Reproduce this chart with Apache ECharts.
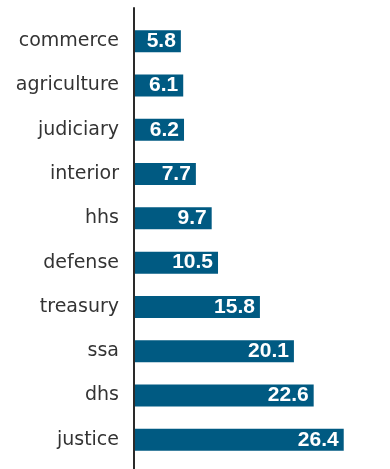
<!DOCTYPE html>
<html><head><meta charset="utf-8">
<script src="https://cdn.jsdelivr.net/npm/echarts@6/dist/echarts.min.js"></script>
<style>html,body{margin:0;padding:0;background:#fff}#c{width:390px;height:469px}</style>
</head><body><div id="c"></div>
<script>
const categories = ["commerce","agriculture","judiciary","interior","hhs","defense","treasury","ssa","dhs","justice"];
const values = [5.8, 6.1, 6.2, 7.7, 9.7, 10.5, 15.8, 20.1, 22.6, 26.4];

const chart = echarts.init(document.getElementById('c'), null, {renderer:'canvas'});
chart.setOption({
  animation:false,
  backgroundColor:'#fff',
  grid:[{left:135, right:2, top:19, bottom:7, containLabel:false},
        {left:134, right:2, top:8, bottom:0}],
  xAxis:[{type:'value', gridIndex:0, min:0, max:32, show:false},
         {type:'value', gridIndex:1, show:false}],
  yAxis:[{type:'category', gridIndex:0, data:categories, inverse:true,
     axisLine:{show:false}, axisTick:{show:false},
     axisLabel:{color:'#333', fontFamily:'DejaVu Sans', fontSize:19, margin:16}},
    {type:'value', gridIndex:1, axisLine:{show:true, lineStyle:{color:'#2a2a2a', width:2}},
     axisTick:{show:false}, axisLabel:{show:false}, splitLine:{show:false}}],
  series:[{type:'bar', xAxisIndex:0, yAxisIndex:0, data:values, barWidth:22,
    itemStyle:{color:'#005a82'},
    label:{show:true, position:'insideRight', distance:5, color:'#fff',
      fontFamily:'Liberation Sans, Arial, sans-serif', fontWeight:'bold', fontSize:21,
      formatter:p=>p.value.toFixed(1)}}]
});
</script></body></html>
